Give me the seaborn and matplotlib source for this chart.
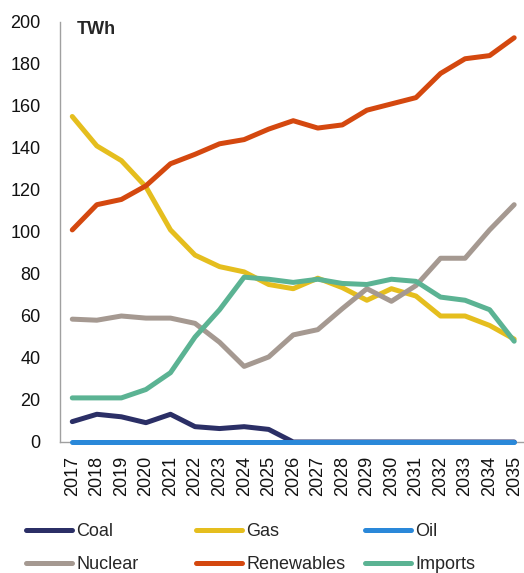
import pandas as pd
import seaborn as sns
import matplotlib.pyplot as plt
from matplotlib.lines import Line2D

years = list(range(2017, 2036))

coal = [9.7, 13.2, 12, 9.2, 13.2, 7.3, 6.4, 7.3, 6, 0, 0, 0, 0, 0, 0, 0, 0, 0, 0]
gas = [155, 141, 134, 121.5, 101, 89, 83.5, 81, 75, 73, 78, 73.5, 67.5, 73, 69.5, 60, 60, 55.5, 49]
oil = [0] * 19
nuclear = [58.5, 58, 60, 59, 59, 56.5, 47.5, 36, 40.5, 51, 53.5, 63.5, 73, 67, 74.5, 87.5, 87.5, 101, 113]
renewables = [101, 113, 115.5, 122, 132.5, 137, 142, 144, 149, 153, 149.5, 151, 158, 161, 164, 175.5, 182.5, 184, 192.5]
imports = [21, 21, 21, 25, 33, 50, 63, 78.5, 77.5, 76, 77.5, 75.5, 75, 77.5, 76.5, 69, 67.5, 63, 48]

names = ["Coal", "Gas", "Oil", "Nuclear", "Renewables", "Imports"]
colors = ["#2b2f66", "#e5be1e", "#2a88d9", "#a59991", "#d4480f", "#5bb393"]

series = [coal, gas, oil, nuclear, renewables, imports]
df = pd.DataFrame({
    "year": years * len(names),
    "value": [v for s in series for v in s],
    "source": [n for n in names for _ in years],
})

sns.set_style("white")
plt.rcParams["font.family"] = ["Liberation Sans", "DejaVu Sans"]

fig = plt.figure(figsize=(5.24, 5.73), dpi=100)
ax = fig.add_axes([60 / 524, 131 / 573, 464 / 524, 420 / 573])

sns.lineplot(data=df, x="year", y="value", hue="source", hue_order=names,
             palette=dict(zip(names, colors)), linewidth=3.6, legend=False,
             ax=ax)
for ln in ax.lines:
    ln.set_clip_on(False)
    ln.set_zorder(3)
    ln.set_solid_capstyle("round")

ax.set_xlim(2016.5, 2035.4)
ax.set_ylim(0, 200)
ax.set_yticks(range(0, 201, 20))
ax.set_xticks(years)
ax.set_xticklabels([str(y) for y in years], rotation=90)
ax.tick_params(axis="both", length=0, labelsize=13, colors="#111111")
ax.tick_params(axis="y", pad=14)
ax.tick_params(axis="x", pad=10)
ax.set_xlabel("")
ax.set_ylabel("")
for side in ["top", "right"]:
    ax.spines[side].set_visible(False)
for side in ["left", "bottom"]:
    ax.spines[side].set_color("#a0a0a0")
    ax.spines[side].set_linewidth(1.0)
    ax.spines[side].set_zorder(1)

ax.text(0.036, 0.982, "TWh", transform=ax.transAxes, fontsize=13,
        fontweight="bold", va="center", ha="left")

# legend: three columns of two entries, at fixed positions
cols = [(0, 3), (1, 4), (2, 5)]
xpos = [26 / 524, 196 / 524, 365 / 524]
for (i, j), x in zip(cols, xpos):
    handles = [Line2D([], [], color=colors[k], linewidth=3.6, solid_capstyle="round")
               for k in (i, j)]
    fig.legend(handles, [names[i], names[j]], loc="upper left",
               bbox_to_anchor=(x, 1 - 523 / 573), frameon=False,
               fontsize=13, handlelength=2.55, handletextpad=0.22,
               labelspacing=0.9, borderaxespad=0, borderpad=0)

fig.savefig("out.png", dpi=100)
